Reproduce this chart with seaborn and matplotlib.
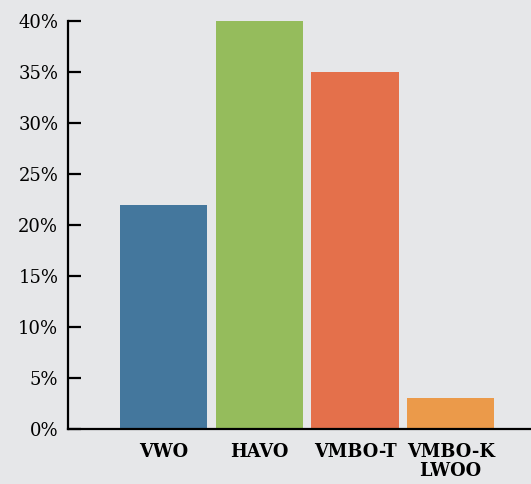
import matplotlib
matplotlib.use("Agg")
import matplotlib.pyplot as plt
import pandas as pd
import seaborn as sns
from matplotlib.ticker import PercentFormatter

# Data
categories = ["VWO", "HAVO", "VMBO-T", "VMBO-K\nLWOO"]
values = [22, 40, 35, 3]
colors = ["#44779d", "#95bc5c", "#e4704b", "#eb9a4a"]
yticks = [0, 5, 10, 15, 20, 25, 30, 35, 40]

df = pd.DataFrame({"cat": categories, "value": values})

bg = "#e6e7e9"
fig = plt.figure(figsize=(5.31, 4.84), dpi=100, facecolor=bg)
ax = fig.add_axes([68 / 531, 55 / 484, 1 - 68 / 531 + 0.01, 408 / 484])
ax.set_facecolor(bg)

sns.barplot(data=df, x="cat", y="value", hue="cat", palette=colors,
            width=0.91, legend=False, ax=ax, saturation=1)

ax.set_xlim(-1.0, 3.895)
ax.set_ylim(0, 40)
ax.set_yticks(yticks)
ax.yaxis.set_major_formatter(PercentFormatter(decimals=0))
ax.set_xlabel("")
ax.set_ylabel("")

for s in ["top", "right"]:
    ax.spines[s].set_visible(False)
for s in ["left", "bottom"]:
    ax.spines[s].set_linewidth(1.6)
    ax.spines[s].set_color("black")

ax.tick_params(axis="y", direction="in", length=9, width=1.6, pad=7,
               labelsize=13, colors="black")
ax.tick_params(axis="x", length=0, pad=10)
for lbl in ax.get_yticklabels():
    lbl.set_fontfamily("DejaVu Serif")
for lbl in ax.get_xticklabels():
    lbl.set_fontfamily("DejaVu Serif")
    lbl.set_fontweight("bold")
    lbl.set_fontsize(12.8)
    lbl.set_linespacing(1.1)

fig.savefig("out.png", dpi=100, facecolor=bg)
